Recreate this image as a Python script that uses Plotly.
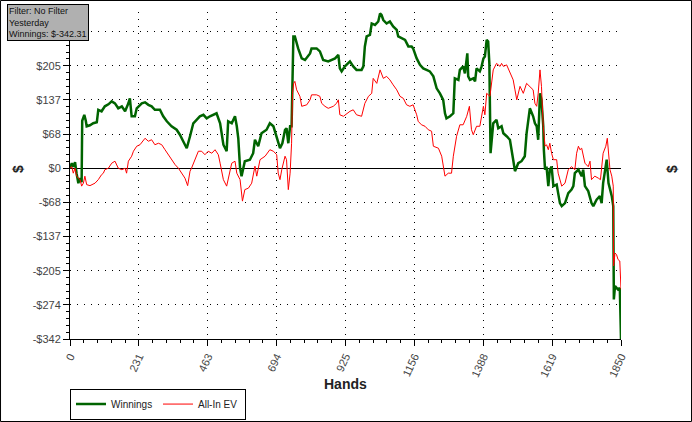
import plotly.graph_objects as go

# --- data ---
win_hands = [
    0, 6, 11, 17, 22, 28, 34, 39, 41, 45,
    48, 53, 56, 67, 78, 90, 95, 106, 117, 129,
    140, 151, 162, 174, 185, 196, 201, 207, 218, 224,
    241, 252, 263, 274, 285, 302, 313, 325, 341, 358,
    369, 380, 392, 403, 414, 425, 436, 448, 459, 470,
    492, 504, 515, 526, 531, 543, 554, 560, 565, 571,
    576, 587, 604, 615, 621, 632, 643, 660, 671, 683,
    694, 705, 713, 722, 727, 733, 739, 744, 750, 755,
    766, 778, 789, 806, 811, 828, 839, 850, 867, 878,
    890, 901, 906, 912, 923, 940, 951, 962, 979, 985,
    990, 996, 1007, 1013, 1024, 1035, 1041, 1046, 1052, 1063,
    1074, 1085, 1097, 1102, 1113, 1125, 1136, 1147, 1152, 1164,
    1175, 1186, 1197, 1208, 1220, 1225, 1231, 1242, 1253, 1259,
    1264, 1276, 1287, 1292, 1304, 1309, 1320, 1326, 1334, 1337,
    1343, 1354, 1360, 1365, 1376, 1382, 1388, 1393, 1399, 1404,
    1408, 1412, 1421, 1432, 1438, 1449, 1455, 1466, 1477, 1488,
    1494, 1505, 1516, 1527, 1533, 1544, 1555, 1561, 1567, 1572,
    1578, 1583, 1589, 1591, 1595, 1600, 1606, 1611, 1617, 1623,
    1634, 1639, 1645, 1651, 1662, 1673, 1684, 1690, 1695, 1707,
    1718, 1723, 1729, 1740, 1751, 1757, 1768, 1779, 1785, 1790,
    1802, 1808, 1813, 1819, 1824, 1825, 1826, 1830, 1840, 1846,
    1849, 1850,
]
win_values = [
    0, 10, 3, 12, -10, -30, -20, -28, 95, 100,
    107, 95, 84, 86, 90, 92, 117, 114, 124, 128,
    134, 130, 120, 124, 114, 130, 140, 104, 104, 120,
    130, 132, 127, 124, 117, 117, 104, 94, 84, 77,
    67, 54, 40, 64, 90, 97, 104, 107, 100, 104,
    110, 90, 47, 34, 94, 90, 104, 84, 60, 0,
    -16, 14, 17, 30, 57, 44, 70, 77, 90, 84,
    64, 40, 50, 77, 80, 50, 84, 84, 264, 264,
    240, 220, 217, 230, 240, 240, 234, 217, 214, 217,
    220, 227, 200, 194, 204, 214, 204, 197, 197, 204,
    244, 264, 267, 290, 287, 294, 310, 307, 297, 290,
    294, 284, 277, 264, 260, 257, 244, 244, 240, 220,
    207, 200, 197, 194, 184, 174, 160, 150, 137, 110,
    100, 104, 110, 180, 177, 197, 204, 190, 230, 184,
    177, 180, 174, 200, 194, 204, 220, 224, 257, 254,
    210, 30, 90, 97, 80, 84, 70, 64, 57, 17,
    -6, 10, 14, 24, 70, 120, 104, 90, 84, 57,
    150, 137, 84, 37, -3, 3, -36, -3, 3, -36,
    -33, -50, -70, -76, -70, -50, -43, -36, -10, -3,
    -16, -3, -36, -46, -70, -76, -63, -56, -70, -30,
    17, -30, -43, -56, -76, -160, -263, -236, -243, -240,
    -320, -342.31,
]

ev_hands = [
    0, 6, 11, 17, 22, 28, 34, 39, 45, 50,
    56, 67, 84, 95, 101, 106, 112, 117, 129, 140,
    151, 162, 174, 185, 190, 196, 207, 213, 224, 235,
    252, 263, 274, 285, 297, 308, 319, 330, 341, 353,
    364, 375, 386, 395, 403, 408, 420, 431, 442, 453,
    464, 476, 487, 498, 504, 515, 526, 531, 543, 554,
    560, 571, 579, 587, 599, 610, 621, 627, 638, 655,
    671, 683, 694, 699, 705, 711, 722, 727, 733, 739,
    744, 747, 751, 755, 761, 772, 778, 795, 806, 811,
    828, 839, 845, 856, 867, 884, 895, 901, 906, 918,
    929, 940, 951, 962, 979, 990, 1002, 1013, 1018, 1030,
    1041, 1052, 1063, 1074, 1085, 1097, 1108, 1119, 1130, 1141,
    1152, 1164, 1169, 1180, 1192, 1203, 1214, 1220, 1237, 1248,
    1259, 1270, 1281, 1287, 1298, 1309, 1320, 1332, 1341, 1348,
    1354, 1365, 1376, 1388, 1393, 1399, 1410, 1421, 1432, 1444,
    1449, 1455, 1466, 1477, 1488, 1494, 1500, 1511, 1522, 1533,
    1544, 1555, 1561, 1567, 1572, 1578, 1583, 1589, 1595, 1600,
    1606, 1611, 1617, 1623, 1634, 1639, 1651, 1662, 1673, 1684,
    1695, 1701, 1707, 1712, 1718, 1723, 1729, 1740, 1746, 1751,
    1762, 1774, 1781, 1790, 1799, 1804, 1808, 1813, 1819, 1824,
    1825, 1830, 1835, 1840, 1846, 1850,
]
ev_values = [
    0, 3, -10, 0, -16, -20, -23, -36, -30, -16,
    -33, -35, -30, -23, -16, -13, -10, -3, 0, 10,
    14, 0, -3, 0, -10, 14, 24, 34, 44, 47,
    60, 54, 57, 47, 50, 47, 37, 27, 17, 7,
    0, -10, -20, -35, -6, 0, 20, 34, 34, 27,
    34, 30, 37, 27, 10, -23, -36, -23, 10, 14,
    -10, -23, -66, -43, -40, -30, 4, -16, 17, 24,
    37, 34, 27, -10, -23, -3, 24, 17, -43, -10,
    50, 150, 170, 174, 157, 144, 124, 127, 137, 147,
    147, 144, 130, 124, 120, 124, 130, 137, 107, 104,
    110, 114, 117, 107, 104, 130, 144, 150, 180, 170,
    197, 180, 184, 177, 167, 157, 144, 140, 127, 124,
    127, 107, 94, 87, 84, 77, 74, 44, 40, 24,
    -16, -10, -10, 24, 64, 87, 87, 104, 124, 77,
    67, 84, 84, 124, 107, 150, 144, 197, 210, 204,
    210, 204, 207, 190, 177, 157, 137, 164, 150, 170,
    164, 157, 130, 124, 150, 197, 164, 84, 44, 47,
    37, 50, 30, 17, 17, -10, -36, -30, -3, 3,
    -3, 30, 44, 37, 40, 27, 10, 3, 14, -23,
    -16, -20, -23, 30, 44, 60, 37, -3, -16, -36,
    -196, -170, -173, -183, -186, -243,
]

x_ticks = [0, 231, 463, 694, 925, 1156, 1388, 1619, 1850]
x_labels = ['0', '231', '463', '694', '925', '1156', '1388', '1619', '1850']
y_ticks = [-342.31, -273.85, -205.39, -136.92, -68.46, 0, 68.46, 136.92, 205.39, 273.85]
y_labels = ['-$342', '-$274', '-$205', '-$137', '-$68', '$0', '$68', '$137', '$205', '$274']

X_RANGE = [0, 1850]
Y_RANGE = [-342.31, 313]
FONT = 'Liberation Sans'
TICK_FONT = dict(family=FONT, size=11, color='#444444')
TITLE_FONT = dict(family=FONT, size=14, color='#222222')

fig = go.Figure()
fig.add_trace(go.Scatter(
    x=win_hands, y=win_values, name='Winnings', mode='lines',
    line=dict(color='#006400', width=2.5)
))
fig.add_trace(go.Scatter(
    x=ev_hands, y=ev_values, name='All-In EV', mode='lines',
    line=dict(color='#ff0000', width=1)
))

# labelled axes carry the outside half of each tick, overlay axes the inside half
base_x = dict(range=X_RANGE, tickmode='array', tickvals=x_ticks, ticklen=6,
              tickcolor='black', linecolor='black', showline=True, automargin=False)
base_y = dict(range=Y_RANGE, tickmode='array', tickvals=y_ticks, ticklen=6,
              tickcolor='black', linecolor='black', showline=True, automargin=False)
x_minor = dict(ticklen=3, tick0=0, dtick=46.25, tickcolor='black', showgrid=False)
y_minor = dict(ticklen=3, tick0=0, dtick=13.6924, tickcolor='black', showgrid=False)

fig.update_layout(
    width=692, height=422,
    margin=dict(l=70, r=71, t=12, b=83, autoexpand=False),
    paper_bgcolor='white', plot_bgcolor='white',
    showlegend=True,
    legend=dict(orientation='h', x=0, xanchor='left', y=-0.199, yanchor='middle',
                bordercolor='black', borderwidth=1, bgcolor='white',
                font=dict(family=FONT, size=10, color='#222222'),
                itemwidth=30, entrywidth=42, tracegroupgap=0),
    xaxis=dict(**base_x, ticks='outside', ticktext=x_labels, tickangle=-65,
               tickfont=TICK_FONT, showgrid=True, gridcolor='black',
               griddash='1px,6px', gridwidth=1, zeroline=False,
               minor=dict(ticks='outside', **x_minor)),
    xaxis2=dict(**base_x, overlaying='x', side='bottom', anchor='y', ticks='inside',
                showticklabels=False, showgrid=False, zeroline=False,
                minor=dict(ticks='inside', **x_minor)),
    xaxis3=dict(**base_x, overlaying='x', side='top', anchor='y', ticks='inside',
                showticklabels=False, showgrid=False, zeroline=False,
                minor=dict(ticks='inside', **x_minor)),
    yaxis=dict(**base_y, ticks='outside', ticktext=y_labels, tickfont=TICK_FONT,
               showgrid=True, gridcolor='black', griddash='1px,6px', gridwidth=1,
               zeroline=True, zerolinecolor='black', zerolinewidth=1,
               minor=dict(ticks='outside', **y_minor)),
    yaxis2=dict(**base_y, overlaying='y', side='right', anchor='x', ticks='outside',
                ticktext=y_labels, tickfont=TICK_FONT, showgrid=False, zeroline=False,
                minor=dict(ticks='outside', **y_minor)),
    yaxis3=dict(**base_y, overlaying='y', side='left', anchor='x', ticks='inside',
                showticklabels=False, showgrid=False, zeroline=False,
                minor=dict(ticks='inside', **y_minor)),
    yaxis4=dict(**base_y, overlaying='y', side='right', anchor='x', ticks='inside',
                showticklabels=False, showgrid=False, zeroline=False,
                minor=dict(ticks='inside', **y_minor)),
)

# axis titles placed as annotations (fixed margins ignore title standoff)
fig.add_annotation(xref='paper', yref='paper', x=-0.0944, y=0.52, text='<b>$</b>',
                   xanchor='center', yanchor='middle', textangle=-90,
                   showarrow=False, font=TITLE_FONT)
fig.add_annotation(xref='paper', yref='paper', x=1.0926, y=0.52, text='<b>$</b>',
                   xanchor='center', yanchor='middle', textangle=-90,
                   showarrow=False, font=TITLE_FONT)
fig.add_annotation(xref='paper', yref='paper', x=0.5, y=-0.1376, text='<b>Hands</b>',
                   xanchor='center', yanchor='middle', showarrow=False, font=TITLE_FONT)

# outer frame of the whole picture
fig.add_shape(type='rect', xref='paper', yref='paper',
              x0=-0.1261, x1=1.1280, y0=-0.2523, y1=1.0352,
              line=dict(color='black', width=1), fillcolor='rgba(0,0,0,0)', layer='above')

# filter info box, top-left (covers the top left tick label, as in the original)
fig.add_annotation(
    xref='paper', yref='paper', x=-0.1143, y=1.0245, xanchor='left', yanchor='top',
    text='Filter: No Filter<br>Yesterday<br>Winnings: $-342.31',
    align='left', showarrow=False,
    font=dict(family=FONT, size=9, color='#111111'),
    bgcolor='#b0b0b0', bordercolor='black', borderwidth=1, borderpad=1
)

# the page's default body margin would push the chart 8px off the window
fig.write_html("out.html", config={'displayModeBar': False},
               post_script="document.body.style.margin='0';")
